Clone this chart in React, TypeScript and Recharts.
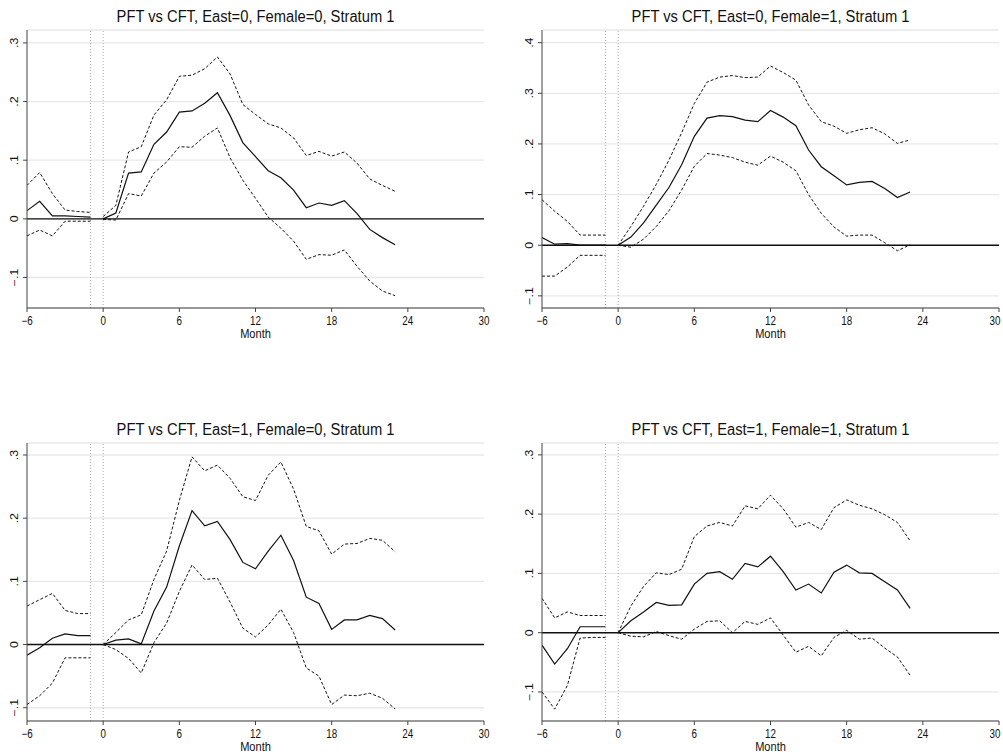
import { LineChart, Line, XAxis, YAxis, CartesianGrid, ReferenceLine, Label } from 'recharts';

// months -6..23, gap between -1 and 0
const months = [-6, -5, -4, -3, -2, -1, 0, 1, 2, 3, 4, 5, 6, 7, 8, 9, 10, 11, 12, 13, 14, 15, 16, 17, 18, 19, 20, 21, 22, 23];
const xTicks = [-6, 0, 6, 12, 18, 24, 30];

// East=0, Female=0
const p1Est = [0.014, 0.030, 0.005, 0.005, 0.004, 0.003, 0, 0.010, 0.078, 0.080, 0.127, 0.148, 0.182, 0.184, 0.197, 0.215, 0.176, 0.130, 0.106, 0.082, 0.070, 0.049, 0.019, 0.027, 0.023, 0.031, 0.009, -0.018, -0.032, -0.044];
const p1Hi = [0.057, 0.079, 0.043, 0.015, 0.0125, 0.011, 0.004, 0.023, 0.114, 0.123, 0.177, 0.203, 0.243, 0.245, 0.256, 0.276, 0.247, 0.195, 0.178, 0.162, 0.155, 0.138, 0.108, 0.115, 0.107, 0.114, 0.095, 0.068, 0.057, 0.047];
const p1Lo = [-0.029, -0.019, -0.029, -0.004, -0.004, -0.004, -0.001, -0.002, 0.043, 0.039, 0.078, 0.097, 0.123, 0.122, 0.141, 0.155, 0.104, 0.066, 0.035, 0.003, -0.016, -0.038, -0.069, -0.061, -0.062, -0.053, -0.081, -0.106, -0.123, -0.131];

// East=0, Female=1
const p2Est = [0.015, 0.002, 0.003, 0, 0, 0, 0, 0.016, 0.044, 0.079, 0.114, 0.159, 0.215, 0.251, 0.256, 0.254, 0.247, 0.244, 0.266, 0.253, 0.236, 0.188, 0.155, 0.137, 0.119, 0.124, 0.126, 0.112, 0.094, 0.105];
const p2Hi = [0.090, 0.067, 0.047, 0.020, 0.020, 0.020, 0, 0.037, 0.077, 0.120, 0.168, 0.222, 0.280, 0.322, 0.332, 0.335, 0.331, 0.332, 0.354, 0.341, 0.326, 0.277, 0.244, 0.235, 0.221, 0.228, 0.232, 0.220, 0.201, 0.208];
const p2Lo = [-0.061, -0.061, -0.043, -0.020, -0.020, -0.020, 0, -0.004, 0.012, 0.037, 0.068, 0.109, 0.156, 0.181, 0.178, 0.173, 0.164, 0.158, 0.176, 0.164, 0.147, 0.100, 0.063, 0.036, 0.018, 0.020, 0.020, 0.005, -0.011, 0.001];

// East=1, Female=0
const p3Est = [-0.017, -0.005, 0.010, 0.017, 0.014, 0.014, 0, 0.007, 0.009, 0.001, 0.053, 0.091, 0.156, 0.212, 0.188, 0.195, 0.166, 0.130, 0.120, 0.148, 0.173, 0.133, 0.075, 0.065, 0.024, 0.039, 0.039, 0.046, 0.041, 0.023];
const p3Hi = [0.061, 0.071, 0.081, 0.054, 0.049, 0.049, 0, 0.019, 0.039, 0.047, 0.103, 0.148, 0.228, 0.297, 0.275, 0.284, 0.263, 0.234, 0.228, 0.268, 0.289, 0.246, 0.187, 0.180, 0.143, 0.159, 0.160, 0.168, 0.165, 0.147];
const p3Lo = [-0.095, -0.081, -0.061, -0.021, -0.021, -0.021, 0, -0.008, -0.022, -0.045, 0.003, 0.034, 0.084, 0.126, 0.103, 0.105, 0.067, 0.026, 0.012, 0.031, 0.056, 0.019, -0.037, -0.050, -0.095, -0.080, -0.081, -0.077, -0.085, -0.102];

// East=1, Female=1
const p4Est = [-0.021, -0.053, -0.027, 0.010, 0.010, 0.010, 0, 0.020, 0.035, 0.051, 0.046, 0.047, 0.082, 0.100, 0.103, 0.090, 0.117, 0.111, 0.129, 0.103, 0.072, 0.082, 0.067, 0.102, 0.114, 0.101, 0.100, 0.086, 0.072, 0.041];
const p4Hi = [0.058, 0.025, 0.035, 0.029, 0.029, 0.029, 0, 0.045, 0.078, 0.101, 0.098, 0.107, 0.162, 0.180, 0.186, 0.180, 0.214, 0.209, 0.232, 0.209, 0.178, 0.186, 0.174, 0.211, 0.224, 0.215, 0.209, 0.199, 0.186, 0.155];
const p4Lo = [-0.100, -0.129, -0.089, -0.009, -0.008, -0.008, 0, -0.006, -0.007, 0.002, -0.005, -0.011, 0.006, 0.019, 0.020, 0, 0.019, 0.014, 0.025, -0.004, -0.033, -0.023, -0.039, -0.008, 0.004, -0.011, -0.009, -0.026, -0.041, -0.072];

const FONT = '"Liberation Sans", Arial, Helvetica, sans-serif';
// the Stata export is a bit squeezed horizontally
const SQ = 0.82;

const fmtY = (v: number) => {
  if (Math.abs(v) < 1e-9) return '0';
  return (v < 0 ? '\u2212' : '') + Math.abs(v).toFixed(1).replace(/^0/, '');
};
const fmtX = (v: number) => (v < 0 ? '\u2212' + Math.abs(v) : String(v));

const YTick = (props: any) => {
  const { x, y, payload } = props;
  return (
    <text
      x={0}
      y={0}
      transform={`translate(${x},${y}) rotate(-90) scale(1,${SQ})`}
      textAnchor="middle"
      fontSize={12.4}
      fontFamily={FONT}
      fill="#111"
    >
      {fmtY(payload.value)}
    </text>
  );
};

const XTick = (props: any) => {
  const { x, y, payload } = props;
  return (
    <text
      x={0}
      y={0}
      transform={`translate(${x},${y + 10}) scale(${SQ},1)`}
      textAnchor="middle"
      fontSize={12}
      fontFamily={FONT}
      fill="#111"
    >
      {fmtX(payload.value)}
    </text>
  );
};

const MonthLabel = (props: any) => {
  const vb = props.viewBox || {};
  const cx = vb.x + vb.width / 2;
  const by = vb.y + vb.height;
  return (
    <text
      x={0}
      y={0}
      transform={`translate(${cx},${by}) scale(${SQ},1)`}
      textAnchor="middle"
      fontSize={13.5}
      fontFamily={FONT}
      fill="#111"
    >
      Month
    </text>
  );
};

function Panel({ title, est, hi, lo, yDomain, yTicks, left, top, width, yAxisWidth, rightMargin }: any) {
  const rows = months.map((m, i) => ({ month: m, est: est[i], hi: hi[i], lo: lo[i] }));
  const pre = rows.filter((r) => r.month < 0);
  const post = rows.filter((r) => r.month >= 0);
  const plotW = width - yAxisWidth - rightMargin;

  return (
    <div style={{ position: 'absolute', left, top, width, height: 360 }}>
      <div
        style={{
          position: 'absolute',
          left: yAxisWidth,
          top: 7,
          width: plotW,
          textAlign: 'center',
          fontFamily: FONT,
          fontSize: 16,
          lineHeight: '19px',
          color: '#111',
          transform: 'scaleX(0.92)'
        }}
      >
        {title}
      </div>
      <LineChart width={width} height={360} margin={{ top: 30, right: rightMargin, left: 0, bottom: 22 }}>
        <CartesianGrid vertical={false} stroke="#e8e8e8" strokeWidth={1.3} />
        <XAxis
          dataKey="month"
          type="number"
          domain={[-6, 30]}
          ticks={xTicks}
          allowDataOverflow
          stroke="#444"
          tickSize={4}
          tickMargin={3}
          height={30}
          tick={<XTick />}
        >
          <Label content={<MonthLabel />} />
        </XAxis>
        <YAxis
          type="number"
          domain={yDomain}
          ticks={yTicks}
          allowDataOverflow
          width={yAxisWidth}
          stroke="#444"
          tickSize={4}
          tickMargin={5}
          tick={<YTick />}
        />
        <ReferenceLine x={-1} stroke="#aaa" strokeDasharray="1 2" />
        <ReferenceLine x={0} stroke="#aaa" strokeDasharray="1 2" />
        <ReferenceLine y={0} stroke="#111" strokeWidth={1.4} />
        <Line data={pre} dataKey="hi" stroke="#111" strokeWidth={1} strokeDasharray="3 2" dot={false} isAnimationActive={false} />
        <Line data={pre} dataKey="lo" stroke="#111" strokeWidth={1} strokeDasharray="3 2" dot={false} isAnimationActive={false} />
        <Line data={pre} dataKey="est" stroke="#111" strokeWidth={1.2} dot={false} isAnimationActive={false} />
        <Line data={post} dataKey="hi" stroke="#111" strokeWidth={1} strokeDasharray="3 2" dot={false} isAnimationActive={false} />
        <Line data={post} dataKey="lo" stroke="#111" strokeWidth={1} strokeDasharray="3 2" dot={false} isAnimationActive={false} />
        <Line data={post} dataKey="est" stroke="#111" strokeWidth={1.2} dot={false} isAnimationActive={false} />
      </LineChart>
    </div>
  );
}

export default function App() {
  return (
    <div style={{ position: 'absolute', left: 0, top: 0, width: 1003, height: 754, background: '#fff', overflow: 'hidden' }}>
      <Panel
        title="PFT vs CFT, East=0, Female=0, Stratum 1"
        est={p1Est} hi={p1Hi} lo={p1Lo}
        yDomain={[-0.152, 0.322]} yTicks={[-0.1, 0, 0.1, 0.2, 0.3]}
        left={0} top={0} width={500} yAxisWidth={27} rightMargin={16}
      />
      <Panel
        title="PFT vs CFT, East=0, Female=1, Stratum 1"
        est={p2Est} hi={p2Hi} lo={p2Lo}
        yDomain={[-0.124, 0.425]} yTicks={[-0.1, 0, 0.1, 0.2, 0.3, 0.4]}
        left={500} top={0} width={503} yAxisWidth={42} rightMargin={4}
      />
      <Panel
        title="PFT vs CFT, East=1, Female=0, Stratum 1"
        est={p3Est} hi={p3Hi} lo={p3Lo}
        yDomain={[-0.121, 0.319]} yTicks={[-0.1, 0, 0.1, 0.2, 0.3]}
        left={0} top={413} width={500} yAxisWidth={27} rightMargin={16}
      />
      <Panel
        title="PFT vs CFT, East=1, Female=1, Stratum 1"
        est={p4Est} hi={p4Hi} lo={p4Lo}
        yDomain={[-0.149, 0.320]} yTicks={[-0.1, 0, 0.1, 0.2, 0.3]}
        left={500} top={413} width={503} yAxisWidth={42} rightMargin={4}
      />
    </div>
  );
}
